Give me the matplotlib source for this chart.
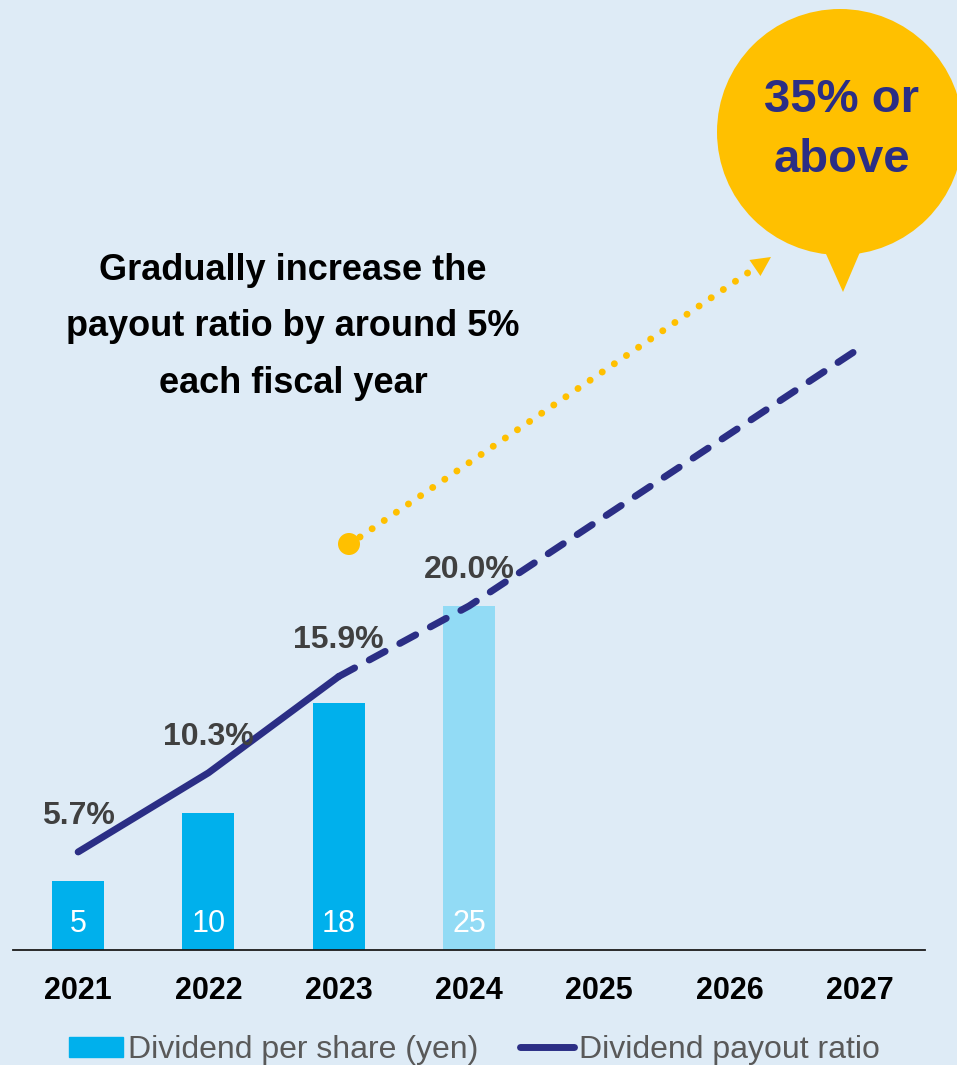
import matplotlib.pyplot as plt
from matplotlib.patches import Circle, Polygon
from matplotlib.lines import Line2D
from matplotlib.patches import Patch

plt.rcParams['font.family'] = ['Liberation Sans', 'DejaVu Sans']

# Datos
years = ["2021", "2022", "2023", "2024", "2025", "2026", "2027"]
dividend = [5, 10, 18, 25]
payout = [5.7, 10.3, 15.9, 20.0, 25.0, 30.0, 35.0]
payout_labels = ["5.7%", "10.3%", "15.9%", "20.0%"]

BG = "#DEEBF6"
BAR = "#00B0EC"
BAR_PLAN = "#92DBF5"
NAVY = "#2B2E85"
GOLD = "#FFC000"

W, H = 957, 1065
fig = plt.figure(figsize=(W / 100, H / 100), dpi=100, facecolor=BG)


def px_box(left, top, right, bottom):
    return [left / W, 1 - bottom / H, (right - left) / W, (bottom - top) / H]


ax = fig.add_axes(px_box(13, 10, 925, 950))
ax.set_facecolor("none")
x = list(range(len(years)))

bar_colors = [BAR, BAR, BAR, BAR_PLAN]
ax.bar(x[:len(dividend)], dividend, width=0.4, color=bar_colors, zorder=2)
for i, v in enumerate(dividend):
    ax.annotate(str(v), (i, 0), xytext=(0, 19), textcoords="offset points",
                ha="center", va="center", fontsize=22, color="white", zorder=3)

ax.set_xlim(-0.5, 6.5)
ax.set_ylim(0, 940 / 13.75)
ax.set_xticks(x)
ax.set_xticklabels(years, fontsize=22, fontweight="bold", color="black")
ax.tick_params(axis="x", length=0, pad=19)
ax.set_yticks([])
for s in ["left", "right", "top"]:
    ax.spines[s].set_visible(False)
ax.spines["bottom"].set_linewidth(1.3)
ax.spines["bottom"].set_color("#1a1a1a")

# Payout ratio: actuals solid, plan dashed
ax2 = ax.twinx()
ax2.set_ylim(0, 940 / 17.2)
ax2.axis("off")
ax2.plot(x[:3], payout[:3], color=NAVY, lw=5, solid_capstyle="round",
         solid_joinstyle="round", zorder=4)
ax2.plot(x[2:], payout[2:], color=NAVY, lw=5, dashes=(2.6, 2.4),
         dash_capstyle="round", zorder=4)
for i, lab in enumerate(payout_labels):
    ax2.annotate(lab, (i, payout[i]), xytext=(0, 26), textcoords="offset points",
                 ha="center", va="center", fontsize=23, fontweight="bold",
                 color="#404040", zorder=5)

# Overlay in pixel coordinates for callouts
deco = fig.add_axes([0, 0, 1, 1])
deco.set_xlim(0, W)
deco.set_ylim(H, 0)
deco.axis("off")
deco.patch.set_visible(False)

deco.text(293, 327, "Gradually increase the\npayout ratio by around 5%\neach fiscal year",
          ha="center", va="center", fontsize=26, fontweight="bold",
          color="black", linespacing=1.8)

deco.add_patch(Circle((349, 544), 11, color=GOLD, lw=0))
deco.plot([360, 752], [537, 270], color=GOLD, lw=5, dashes=(0.01, 2.1),
          dash_capstyle="round")
deco.annotate("", xy=(771, 257), xytext=(752, 270),
              arrowprops=dict(arrowstyle="-|>,head_length=1.4,head_width=0.7",
                              color=GOLD, lw=0, shrinkA=0, shrinkB=0))

deco.add_patch(Circle((840, 132), 123, color=GOLD, lw=0))
deco.add_patch(Polygon([(822, 245), (863, 245), (843, 292)], closed=True,
                       color=GOLD, lw=0))
deco.text(842, 130, "35% or\nabove", ha="center", va="center", fontsize=34,
          fontweight="bold", color=NAVY, linespacing=1.45)

handles = [Patch(color=BAR), Line2D([], [], color=NAVY, lw=5, solid_capstyle="round")]
fig.legend(handles, ["Dividend per share (yen)", "Dividend payout ratio"],
           loc="center", bbox_to_anchor=(474 / W, 1 - 1050 / H), ncol=2,
           frameon=False, fontsize=23, labelcolor="#595959",
           handlelength=1.7, handletextpad=0.15, columnspacing=1.3,
           handleheight=0.6)

fig.savefig("out.png", dpi=100, facecolor=BG)
